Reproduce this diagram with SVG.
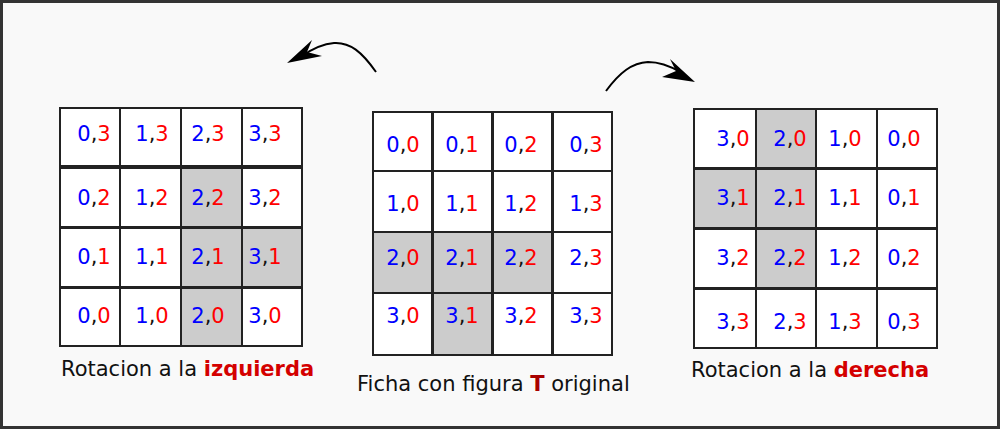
<svg xmlns="http://www.w3.org/2000/svg" width="1000" height="429" viewBox="0 0 1000 429">
<style>
.c{fill:#ffffff;stroke:#222;stroke-width:2}
.g{fill:#cccccc;stroke:#222;stroke-width:2}
.t{font-family:"DejaVu Sans",sans-serif;font-size:21px;text-anchor:middle;fill:#111}
.b{fill:#0000ff}
.r{fill:#ff0000}
.lbl{font-family:"DejaVu Sans",sans-serif;font-size:21px;fill:#111}
.em{font-weight:bold;fill:#d40000}
.emT{font-weight:bold;fill:#a80000}
.arr{fill:none;stroke:#000;stroke-width:2}
</style>
<rect x="1.5" y="1.5" width="997" height="426" fill="#f9f9f9" stroke="#333" stroke-width="3"/>

<g id="grid-left">
<rect class="c" x="60" y="108" width="60" height="58"/><rect class="c" x="120" y="108" width="61" height="58"/><rect class="c" x="181" y="108" width="61" height="58"/><rect class="c" x="242" y="108" width="60" height="58"/>
<rect class="c" x="60" y="168" width="60" height="59"/><rect class="c" x="120" y="168" width="61" height="59"/><rect class="g" x="181" y="168" width="61" height="59"/><rect class="c" x="242" y="168" width="60" height="59"/>
<rect class="c" x="60" y="228" width="60" height="59"/><rect class="c" x="120" y="228" width="61" height="59"/><rect class="g" x="181" y="228" width="61" height="59"/><rect class="g" x="242" y="228" width="60" height="59"/>
<rect class="c" x="60" y="288" width="60" height="58"/><rect class="c" x="120" y="288" width="61" height="58"/><rect class="g" x="181" y="288" width="61" height="58"/><rect class="c" x="242" y="288" width="60" height="58"/>
<text class="t" x="94" y="141"><tspan class="b">0</tspan>,<tspan class="r">3</tspan></text>
<text class="t" x="152" y="141"><tspan class="b">1</tspan>,<tspan class="r">3</tspan></text>
<text class="t" x="208" y="141"><tspan class="b">2</tspan>,<tspan class="r">3</tspan></text>
<text class="t" x="265" y="141"><tspan class="b">3</tspan>,<tspan class="r">3</tspan></text>
<text class="t" x="94" y="205"><tspan class="b">0</tspan>,<tspan class="r">2</tspan></text>
<text class="t" x="152" y="205"><tspan class="b">1</tspan>,<tspan class="r">2</tspan></text>
<text class="t" x="208" y="205"><tspan class="b">2</tspan>,<tspan class="r">2</tspan></text>
<text class="t" x="265" y="205"><tspan class="b">3</tspan>,<tspan class="r">2</tspan></text>
<text class="t" x="94" y="264"><tspan class="b">0</tspan>,<tspan class="r">1</tspan></text>
<text class="t" x="152" y="264"><tspan class="b">1</tspan>,<tspan class="r">1</tspan></text>
<text class="t" x="208" y="264"><tspan class="b">2</tspan>,<tspan class="r">1</tspan></text>
<text class="t" x="265" y="264"><tspan class="b">3</tspan>,<tspan class="r">1</tspan></text>
<text class="t" x="94" y="323"><tspan class="b">0</tspan>,<tspan class="r">0</tspan></text>
<text class="t" x="152" y="323"><tspan class="b">1</tspan>,<tspan class="r">0</tspan></text>
<text class="t" x="208" y="323"><tspan class="b">2</tspan>,<tspan class="r">0</tspan></text>
<text class="t" x="265" y="323"><tspan class="b">3</tspan>,<tspan class="r">0</tspan></text>
<text class="lbl" x="61" y="376">Rotacion a la <tspan class="em">izquierda</tspan></text>
</g>

<g id="grid-middle">
<rect class="c" x="373" y="112" width="59" height="59"/><rect class="c" x="433" y="112" width="59" height="59"/><rect class="c" x="493" y="112" width="59" height="59"/><rect class="c" x="553" y="112" width="59" height="59"/>
<rect class="c" x="373" y="171" width="59" height="61"/><rect class="c" x="433" y="171" width="59" height="61"/><rect class="c" x="493" y="171" width="59" height="61"/><rect class="c" x="553" y="171" width="59" height="61"/>
<rect class="g" x="373" y="232" width="59" height="61"/><rect class="g" x="433" y="232" width="59" height="61"/><rect class="g" x="493" y="232" width="59" height="61"/><rect class="c" x="553" y="232" width="59" height="61"/>
<rect class="c" x="373" y="293" width="59" height="62"/><rect class="g" x="433" y="293" width="59" height="62"/><rect class="c" x="493" y="293" width="59" height="62"/><rect class="c" x="553" y="293" width="59" height="62"/>
<text class="t" x="403" y="152"><tspan class="b">0</tspan>,<tspan class="r">0</tspan></text>
<text class="t" x="462" y="152"><tspan class="b">0</tspan>,<tspan class="r">1</tspan></text>
<text class="t" x="521" y="152"><tspan class="b">0</tspan>,<tspan class="r">2</tspan></text>
<text class="t" x="586" y="152"><tspan class="b">0</tspan>,<tspan class="r">3</tspan></text>
<text class="t" x="403" y="211"><tspan class="b">1</tspan>,<tspan class="r">0</tspan></text>
<text class="t" x="462" y="211"><tspan class="b">1</tspan>,<tspan class="r">1</tspan></text>
<text class="t" x="521" y="211"><tspan class="b">1</tspan>,<tspan class="r">2</tspan></text>
<text class="t" x="586" y="211"><tspan class="b">1</tspan>,<tspan class="r">3</tspan></text>
<text class="t" x="403" y="265"><tspan class="b">2</tspan>,<tspan class="r">0</tspan></text>
<text class="t" x="462" y="265"><tspan class="b">2</tspan>,<tspan class="r">1</tspan></text>
<text class="t" x="521" y="265"><tspan class="b">2</tspan>,<tspan class="r">2</tspan></text>
<text class="t" x="586" y="265"><tspan class="b">2</tspan>,<tspan class="r">3</tspan></text>
<text class="t" x="403" y="323"><tspan class="b">3</tspan>,<tspan class="r">0</tspan></text>
<text class="t" x="462" y="323"><tspan class="b">3</tspan>,<tspan class="r">1</tspan></text>
<text class="t" x="521" y="323"><tspan class="b">3</tspan>,<tspan class="r">2</tspan></text>
<text class="t" x="586" y="323"><tspan class="b">3</tspan>,<tspan class="r">3</tspan></text>
<text class="lbl" x="357" y="391">Ficha con figura <tspan class="emT">T</tspan> original</text>
</g>

<g id="grid-right">
<rect class="c" x="694" y="109" width="62" height="59"/><rect class="g" x="756" y="109" width="60" height="59"/><rect class="c" x="816" y="109" width="61" height="59"/><rect class="c" x="877" y="109" width="60" height="59"/>
<rect class="g" x="694" y="169" width="62" height="59"/><rect class="g" x="756" y="169" width="60" height="59"/><rect class="c" x="816" y="169" width="61" height="59"/><rect class="c" x="877" y="169" width="60" height="59"/>
<rect class="c" x="694" y="229" width="62" height="59"/><rect class="g" x="756" y="229" width="60" height="59"/><rect class="c" x="816" y="229" width="61" height="59"/><rect class="c" x="877" y="229" width="60" height="59"/>
<rect class="c" x="694" y="289" width="62" height="59"/><rect class="c" x="756" y="289" width="60" height="59"/><rect class="c" x="816" y="289" width="61" height="59"/><rect class="c" x="877" y="289" width="60" height="59"/>
<text class="t" x="733" y="146"><tspan class="b">3</tspan>,<tspan class="r">0</tspan></text>
<text class="t" x="790" y="146"><tspan class="b">2</tspan>,<tspan class="r">0</tspan></text>
<text class="t" x="845" y="146"><tspan class="b">1</tspan>,<tspan class="r">0</tspan></text>
<text class="t" x="904" y="146"><tspan class="b">0</tspan>,<tspan class="r">0</tspan></text>
<text class="t" x="733" y="205"><tspan class="b">3</tspan>,<tspan class="r">1</tspan></text>
<text class="t" x="790" y="205"><tspan class="b">2</tspan>,<tspan class="r">1</tspan></text>
<text class="t" x="845" y="205"><tspan class="b">1</tspan>,<tspan class="r">1</tspan></text>
<text class="t" x="904" y="205"><tspan class="b">0</tspan>,<tspan class="r">1</tspan></text>
<text class="t" x="733" y="265"><tspan class="b">3</tspan>,<tspan class="r">2</tspan></text>
<text class="t" x="790" y="265"><tspan class="b">2</tspan>,<tspan class="r">2</tspan></text>
<text class="t" x="845" y="265"><tspan class="b">1</tspan>,<tspan class="r">2</tspan></text>
<text class="t" x="904" y="265"><tspan class="b">0</tspan>,<tspan class="r">2</tspan></text>
<text class="t" x="733" y="329"><tspan class="b">3</tspan>,<tspan class="r">3</tspan></text>
<text class="t" x="790" y="329"><tspan class="b">2</tspan>,<tspan class="r">3</tspan></text>
<text class="t" x="845" y="329"><tspan class="b">1</tspan>,<tspan class="r">3</tspan></text>
<text class="t" x="904" y="329"><tspan class="b">0</tspan>,<tspan class="r">3</tspan></text>
<text class="lbl" x="691" y="377">Rotacion a la <tspan class="em">derecha</tspan></text>
</g>

<g id="connectors">
<path class="arr" d="M376,72 C362,52 350,42 334,43 C322,44 312,49 302,56"/>
<path d="M287,63 L312,40 L307,52 L322,56 Z" fill="#000"/>
<path class="arr" d="M606,91 C620,72 632,63 648,62 C660,62 670,66 680,72"/>
<path d="M695,82 L670,59 L676,71 L662,77 Z" fill="#000"/>
</g>
</svg>
